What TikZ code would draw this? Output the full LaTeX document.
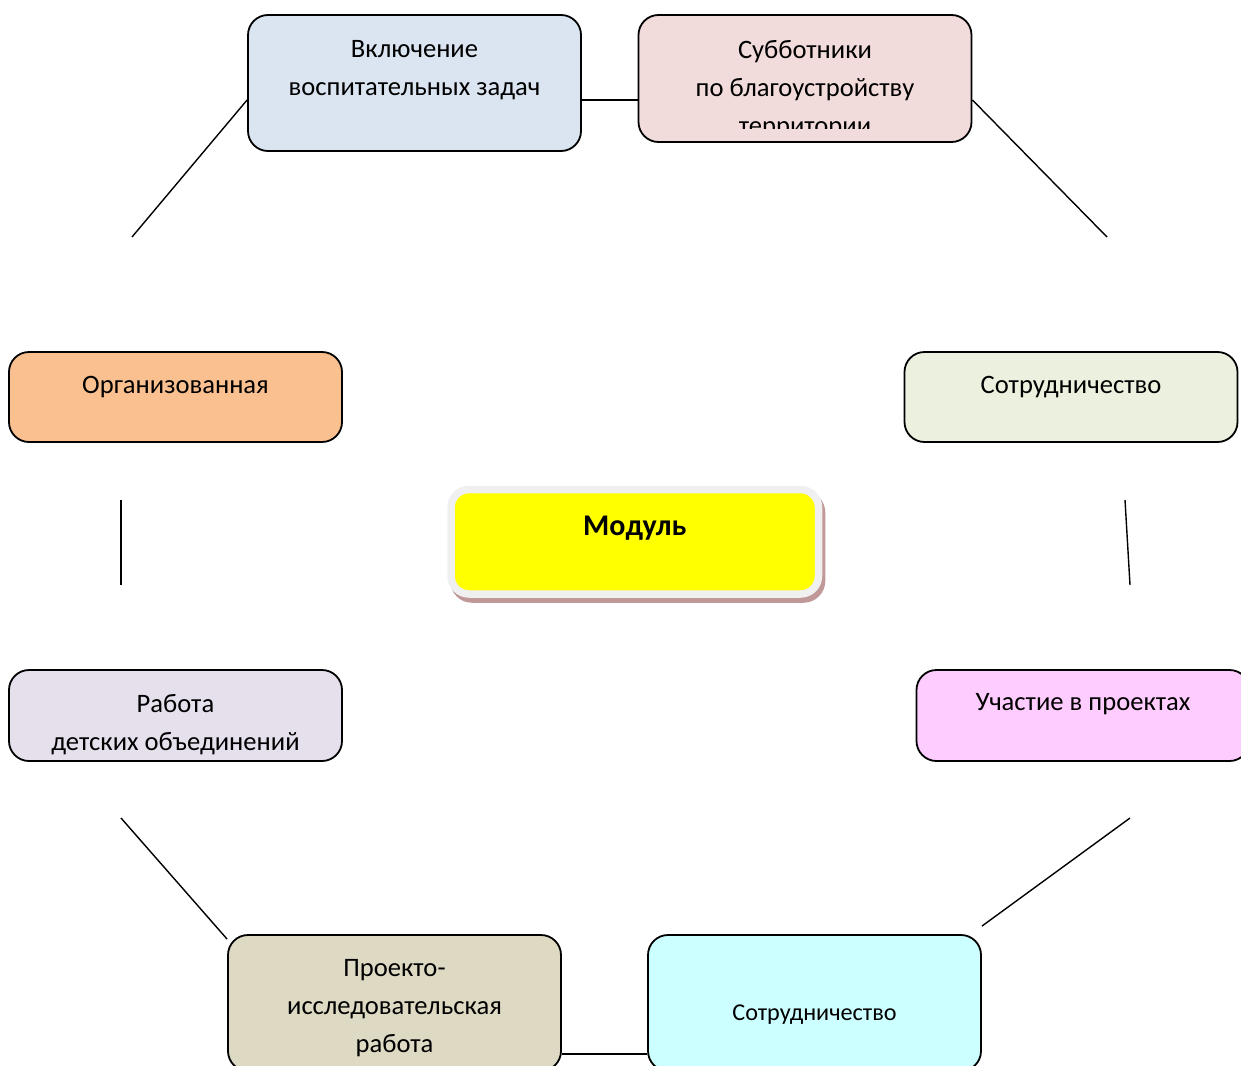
\documentclass[tikz,border=0pt]{standalone}
\usepackage{fontspec}
\setmainfont{Carlito}
\usepackage{tikz}
\definecolor{colorIncl}{HTML}{DBE5F1}
\definecolor{colorSubb}{HTML}{F2DCDB}
\definecolor{colorOrg}{HTML}{FAC090}
\definecolor{colorCoop}{HTML}{EBF1DE}
\definecolor{colorWork}{HTML}{E5E0EC}
\definecolor{colorPart}{HTML}{FFCCFF}
\definecolor{colorProj}{HTML}{DDD9C3}
\definecolor{colorCoopB}{HTML}{CCFFFF}
\definecolor{colorMod}{HTML}{FFFF00}
\definecolor{colorRim}{HTML}{F0F0F0}
\definecolor{colorShadow}{HTML}{C09898}
\usetikzlibrary{shadows}
\tikzset{
   box/.style={rectangle,rounded corners=10pt,draw=black,line width=0.9pt,
     minimum width=166.5pt,minimum height=45pt,inner sep=0pt},
   textblk/.style={anchor=north,align=center,inner sep=0pt,draw=none,fill=none,
     minimum width=0pt,minimum height=0pt,font=\fontsize{13.3}{19}\selectfont},
   modul/.style={rectangle,rounded corners=9pt,fill=colorMod,draw=colorRim,line width=3.75pt,
     minimum width=183.75pt,minimum height=52.25pt,inner sep=0pt,
     drop shadow={shadow xshift=1.5pt,shadow yshift=-2.5pt,fill=colorShadow,
       draw=colorShadow,line width=3.75pt,opacity=1}},
   link/.style={draw=black,line width=0.7pt},
}
% text in a box, clipped to the box (#1 = inset at the bottom)
\newcommand{\intext}[3][0pt]{%
  \clip ([yshift=#1]path picture bounding box.south west) rectangle (path picture bounding box.north east);
  \node[textblk] at ([yshift=-#2]path picture bounding box.north) {#3};}

\begin{document}
\begin{tikzpicture}[x=0.5pt,y=-0.5pt]
        \useasboundingbox (0,0) rectangle (1241,1065);

        \node[box,fill=colorIncl,minimum height=68pt,
          path picture={\intext{12.5pt}{Включение\\воспитательных задач}}] (incl) at (414.5,83) {};
        \node[box,fill=colorSubb,minimum height=63.5pt,
          path picture={\intext[7pt]{12pt}{Субботники\\по благоустройству\\территории}}] (subb) at (805,78.5) {};

        \node[box,fill=colorOrg,
          path picture={\intext{11.5pt}{Организованная}}] (org) at (175.5,397) {};
        \node[box,fill=colorCoop,
          path picture={\intext{11.5pt}{Сотрудничество}}] (coop) at (1071,397) {};

        \node[modul,
          path picture={\intext{11.5pt}{\bfseries\fontsize{15}{19}\selectfont Модуль}}] (mod) at (634.75,541.75) {};

        \node[box,fill=colorWork,minimum height=45.5pt,
          path picture={\intext{11.5pt}{Работа\\детских объединений}}] (work) at (175.5,715.5) {};
        \node[box,fill=colorPart,minimum height=45.5pt,
          path picture={\intext{11.5pt}{Участие в проектах}}] (part) at (1083,715.5) {};

        \node[box,fill=colorProj,minimum height=68pt,
          path picture={\intext{12pt}{Проекто-\\исследовательская\\работа}}] (proj) at (394.5,1003) {};
        \node[box,fill=colorCoopB,minimum height=68pt,
          path picture={\intext{34.5pt}{\fontsize{12.1}{17}\selectfont Сотрудничество}}] (coopb) at (814.5,1003) {};

        \coordinate (tl) at (132,237);
        \coordinate (tr) at (1107,237);
        \coordinate (ml1) at (121,500);
        \coordinate (ml2) at (121,585);
        \coordinate (mr1) at (1125,500);
        \coordinate (mr2) at (1130,585);
        \coordinate (bl) at (121,818);
        \coordinate (br) at (1130,818);

        \draw[link] ([yshift=-8.5pt]incl.east) -- ([yshift=-10.75pt]subb.west);
        \draw[link] ([yshift=-8.5pt]incl.west) -- (tl);
        \draw[link] ([yshift=-10.75pt]subb.east) -- (tr);
        \draw[link] (ml1) -- (ml2);
        \draw[link] (mr1) -- (mr2);
        \draw[link] (bl) -- ([yshift=-2.5pt]proj.north west);
        \draw[link] (br) -- ([yshift=4pt]coopb.north east);
        \draw[link] ([yshift=-25.5pt]proj.east) -- ([yshift=-25.5pt]coopb.west);

      \end{tikzpicture}
\end{document}
